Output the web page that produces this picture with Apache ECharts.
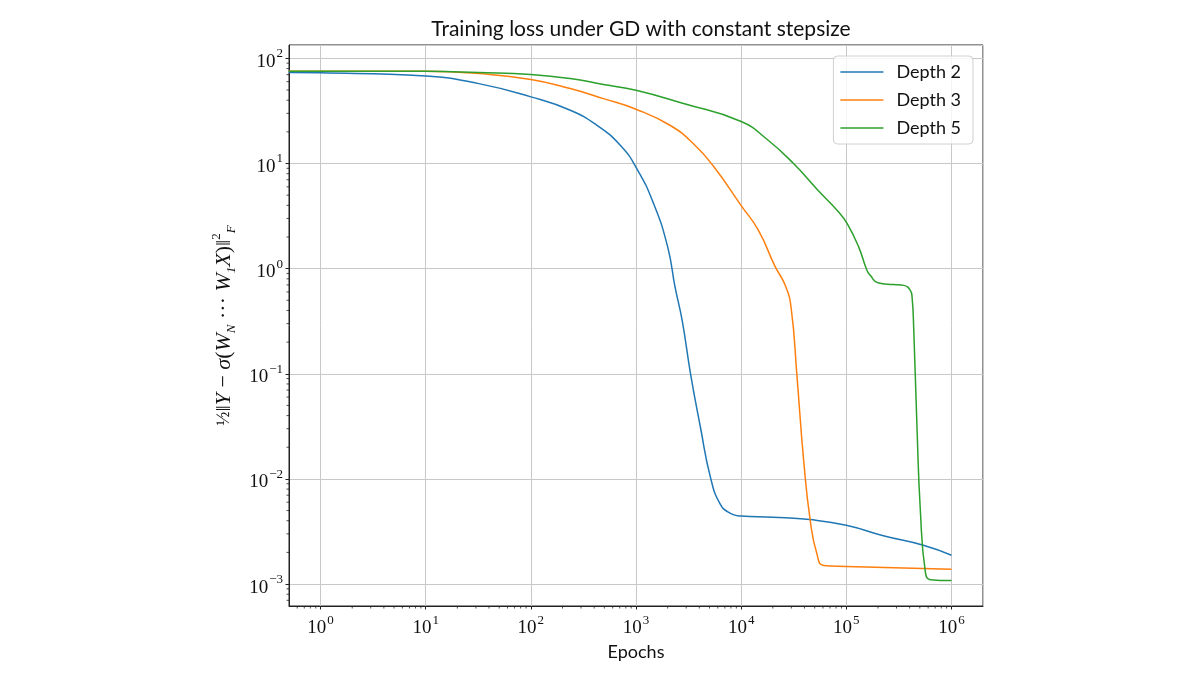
<!DOCTYPE html>
<html>
<head>
<meta charset="utf-8">
<script src="https://cdn.jsdelivr.net/npm/echarts@6/dist/echarts.min.js"></script>
<style>
  html, body { margin: 0; padding: 0; background: #fff; }
  #chart { width: 1200px; height: 675px; }
</style>
</head>
<body>
<div id="chart"></div>
<script>
// Training loss per depth
const depth2Epochs = [0.5, 1, 10, 32, 100, 237, 425, 708, 1020, 1470, 2000, 2350, 2750, 3300, 4100, 5100, 6300, 7900, 10000, 20000, 45000, 100000, 225000, 540000, 1000000];
const depth2Loss = [73.3, 72.8, 68, 57.5, 43, 32.1, 23.1, 14.9, 8.9, 4.15, 1.61, 0.67, 0.32, 0.1, 0.031, 0.0104, 0.0058, 0.0047, 0.00443, 0.00432, 0.0041, 0.00363, 0.00288, 0.00234, 0.00188];

const depth3Epochs = [0.5, 1, 10, 32, 100, 237, 490, 1000, 2100, 3500, 5500, 10000, 14600, 21000, 26300, 29900, 34000, 39300, 45400, 52500, 60800, 100000, 1000000];
const depth3Loss = [75.4, 75.4, 75.3, 71.6, 63.1, 51.6, 41.4, 32.8, 23.1, 15.5, 9.3, 3.98, 2.31, 1.05, 0.69, 0.42, 0.093, 0.015, 0.004, 0.00194, 0.0015, 0.00147, 0.00138];

const depth5Epochs = [0.5, 1, 10, 32, 100, 237, 490, 1000, 2830, 10000, 17600, 31500, 53700, 84500, 102000, 131000, 157000, 169000, 200000, 282000, 351000, 406000, 422000, 437000, 470000, 506000, 565000, 630000, 1000000];
const depth5Loss = [75.4, 75.4, 75.3, 73.3, 70.2, 64.3, 56.4, 49.7, 37.2, 25.1, 17.0, 9.98, 5.56, 3.46, 2.68, 1.61, 0.964, 0.863, 0.733, 0.705, 0.693, 0.622, 0.537, 0.278, 0.0311, 0.005, 0.0013, 0.0011, 0.00108];

const seriesNames = ['Depth 2', 'Depth 3', 'Depth 5'];
const seriesColors = ['#1f77b4', '#ff7f0e', '#2ca02c'];

// axis ranges (matplotlib log autoscale with 5% margins)
const X_MIN = 0.501, X_MAX = 1.995e6;
const Y_MIN = 6.18e-4, Y_MAX = 134;

const zip = (xs, ys) => xs.map((x, i) => [x, ys[i]]);

// minor tick positions 2..9 x 10^k inside the range
const minorTicks = (lo, hi) => {
  const out = [];
  for (let e = Math.floor(Math.log10(lo)); e <= Math.ceil(Math.log10(hi)); e++) {
    for (let k = 2; k <= 9; k++) {
      const v = k * Math.pow(10, e);
      if (v > lo && v < hi) out.push(v);
    }
  }
  return out;
};

const powLabel = v => {
  const e = Math.round(Math.log10(v));
  return '{b|10}{e|' + String(e).replace('-', '\u2212') + '}';
};

const labelRich = {
  b: { fontFamily: 'Liberation Serif', fontSize: 19, color: '#111', lineHeight: 26, verticalAlign: 'bottom' },
  e: { fontFamily: 'Liberation Serif', fontSize: 13, color: '#111', lineHeight: 13, verticalAlign: 'top', padding: [2, 0, 0, 1] }
};

const chart = echarts.init(document.getElementById('chart'));

const lossArrays = [depth2Loss, depth3Loss, depth5Loss];
const lineSeries = [depth2Epochs, depth3Epochs, depth5Epochs].map((xs, i) => ({
  name: seriesNames[i],
  type: 'line',
  data: zip(xs, lossArrays[i]),
  symbol: 'none',
  smooth: 0.5,
  lineStyle: { width: 1.5, color: seriesColors[i] },
  itemStyle: { color: seriesColors[i] },
  z: 3
}));

const tickSeries = [
  {
    type: 'custom',
    silent: true,
    data: minorTicks(X_MIN, X_MAX).map(v => [v, Y_MIN]),
    renderItem: (params, api) => {
      const p = api.coord([api.value(0), Y_MIN]);
      return { type: 'line', shape: { x1: p[0], y1: p[1], x2: p[0], y2: p[1] + 2.5 }, style: { stroke: '#222', lineWidth: 0.8 } };
    }
  },
  {
    type: 'custom',
    silent: true,
    data: minorTicks(Y_MIN, Y_MAX).map(v => [X_MIN, v]),
    renderItem: (params, api) => {
      const p = api.coord([X_MIN, api.value(1)]);
      return { type: 'line', shape: { x1: p[0] - 2.5, y1: p[1], x2: p[0], y2: p[1] }, style: { stroke: '#222', lineWidth: 0.8 } };
    }
  }
];

chart.setOption({
  animation: false,
  backgroundColor: '#fff',
  title: {
    text: 'Training loss under GD with constant stepsize',
    left: 636,
    top: 14,
    textAlign: 'center',
    textStyle: { fontFamily: 'Lato', fontSize: 21, fontWeight: 'normal', color: '#111' }
  },
  legend: {
    data: seriesNames,
    orient: 'vertical',
    right: 227,
    top: 56,
    icon: 'rect',
    itemWidth: 43,
    itemHeight: 1.5,
    itemGap: 10,
    padding: [7, 12, 7, 7],
    borderColor: '#d0d0d0',
    borderWidth: 1,
    borderRadius: 4,
    backgroundColor: 'rgba(255,255,255,0.8)',
    textStyle: { fontFamily: 'Lato', fontSize: 18, color: '#111', lineHeight: 18, padding: [0, 0, 0, 8] }
  },
  grid: { left: 289, right: 217, top: 45, bottom: 69, show: true, borderColor: '#222', borderWidth: 1, backgroundColor: 'transparent' },
  xAxis: {
    type: 'log',
    logBase: 10,
    min: X_MIN,
    max: X_MAX,
    name: 'Epochs',
    nameLocation: 'middle',
    nameGap: 36,
    nameTextStyle: { fontFamily: 'Lato', fontSize: 18, color: '#111' },
    axisLine: { show: true, lineStyle: { color: '#222', width: 1 } },
    axisTick: { show: true, length: 3.5, lineStyle: { color: '#222' } },
    minorTick: { show: false },
    axisLabel: { formatter: powLabel, rich: labelRich, margin: 6, showMinLabel: false, showMaxLabel: false },
    splitLine: { show: true, lineStyle: { color: '#c8c8c8', width: 1 } }
  },
  yAxis: {
    type: 'log',
    logBase: 10,
    min: Y_MIN,
    max: Y_MAX,
    name: '{n|\u00bd}{m|\u2016}{i|Y}{m| \u2212 }{i|\u03c3}{m|(}{i|W}{s|N}{m| \u00b7\u00b7\u00b7 }{i|W}{s|1}{i|X}{m|)\u2016}{p|2}{s|F}',
    nameLocation: 'middle',
    nameRotate: 90,
    nameGap: 26,
    nameTextStyle: {
      rich: {
        n: { fontFamily: 'Liberation Serif', fontSize: 19, color: '#111', lineHeight: 28, verticalAlign: 'middle' },
        m: { fontFamily: 'Liberation Serif', fontSize: 22, color: '#111', lineHeight: 28, verticalAlign: 'middle' },
        i: { fontFamily: 'Liberation Serif', fontStyle: 'italic', fontSize: 22, color: '#111', lineHeight: 28, verticalAlign: 'middle' },
        s: { fontFamily: 'Liberation Serif', fontStyle: 'italic', fontSize: 13, color: '#111', lineHeight: 13, verticalAlign: 'bottom' },
        p: { fontFamily: 'Liberation Serif', fontSize: 13, color: '#111', lineHeight: 13, verticalAlign: 'top' }
      }
    },
    axisLine: { show: true, lineStyle: { color: '#222', width: 1 } },
    axisTick: { show: true, length: 3.5, lineStyle: { color: '#222' } },
    minorTick: { show: false },
    axisLabel: { formatter: powLabel, rich: labelRich, margin: 6, showMinLabel: false, showMaxLabel: false },
    splitLine: { show: true, lineStyle: { color: '#c8c8c8', width: 1 } }
  },
  series: lineSeries.concat(tickSeries)
});

window.addEventListener('resize', () => chart.resize());
</script>
</body>
</html>
